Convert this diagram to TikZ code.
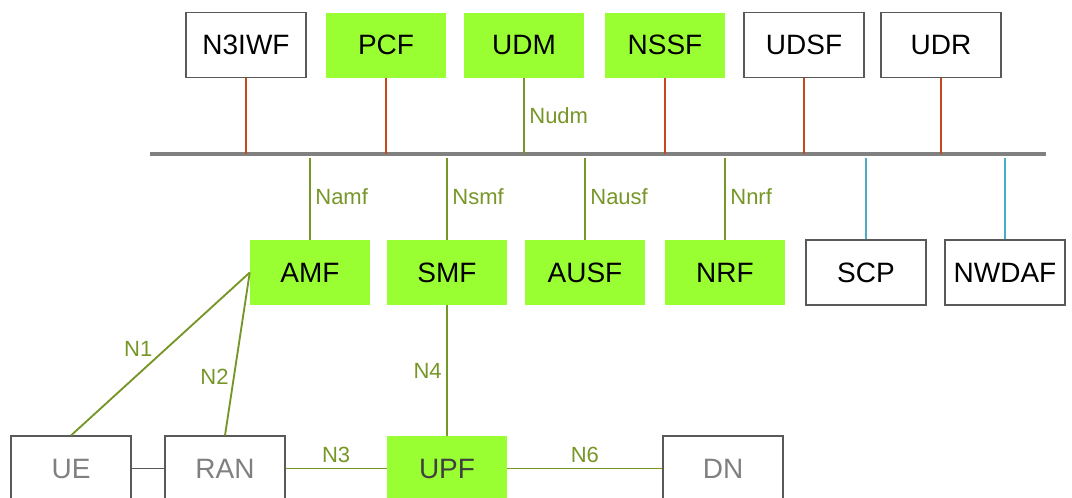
\documentclass[tikz,border=0pt]{standalone}
\usepackage{fontspec}
\setmainfont{Liberation Sans}
\usepackage{xcolor}
\usetikzlibrary{positioning}

\definecolor{nfgreen}{RGB}{153,255,51}
\definecolor{linkgreen}{RGB}{119,150,40}
\definecolor{linkred}{RGB}{197,72,28}
\definecolor{linkblue}{RGB}{75,172,198}
\definecolor{busgray}{RGB}{128,128,128}
\definecolor{boxgray}{RGB}{89,89,89}

\begin{document}
\begin{tikzpicture}[
    x=0.75pt, y=-0.75pt,
    nf/.style={rectangle, minimum width=90pt, minimum height=48.75pt, inner sep=0pt, font=\fontsize{21}{24}\selectfont},
    greennf/.style={nf, fill=nfgreen},
    plainnf/.style={nf, draw=boxgray, line width=0.8pt, fill=white},
    greylbl/.style={text=busgray},
    link/.style={draw=linkgreen, line width=1.4pt},
    redlink/.style={draw=linkred, line width=1.4pt},
    bluelink/.style={draw=linkblue, line width=1.4pt},
    lbl/.style={text=linkgreen, font=\fontsize{16.5}{18}\selectfont}
]

\useasboundingbox (0,0) rectangle (1072,497);
\clip (0,0) rectangle (1072,497);

% Service bus
\coordinate (busL) at (150,154);
\coordinate (busR) at (1046,154);
\draw[busgray, line width=3pt] (busL) -- (busR);

% Top row
\foreach \name/\x/\sty in {N3IWF/246/plainnf, PCF/386/greennf, UDM/524/greennf,
                          NSSF/665/greennf, UDSF/804/plainnf, UDR/941/plainnf} {
    \node[\sty] (\name) at (\x,45) {\name};
}

% Middle row
\foreach \name/\x/\sty in {AMF/310/greennf, SMF/447/greennf, AUSF/585/greennf,
                          NRF/725/greennf, SCP/866/plainnf, NWDAF/1005/plainnf} {
    \node[\sty] (\name) at (\x,272.5) {\name};
}

% Bottom row
\node[plainnf, greylbl] (UE) at (71,468.5) {UE};
\node[plainnf, greylbl] (RAN) at (225,468.5) {RAN};
\node[greennf, text=black!75] (UPF) at (447,468.5) {UPF};
\node[plainnf, greylbl] (DN) at (723,468.5) {DN};

% Top row to bus
\foreach \name in {N3IWF, PCF, NSSF, UDSF, UDR} {
    \draw[redlink] (\name.south) -- (\name.south |- busL);
}
\draw[link] (UDM.south) -- (UDM.south |- busL) node[lbl, midway, right] {Nudm};

% Middle row to bus
\draw[link, shorten >=3pt] (AMF.north) -- (AMF.north |- busL) node[lbl, midway, right] {Namf};
\draw[link, shorten >=3pt] (SMF.north) -- (SMF.north |- busL) node[lbl, midway, right] {Nsmf};
\draw[link, shorten >=3pt] (AUSF.north) -- (AUSF.north |- busL) node[lbl, midway, right] {Nausf};
\draw[link, shorten >=3pt] (NRF.north) -- (NRF.north |- busL) node[lbl, midway, right] {Nnrf};
\foreach \name in {SCP, NWDAF} {
    \draw[bluelink, shorten >=3pt] (\name.north) -- (\name.north |- busL);
}

% Reference points
\draw[link] (UE.north) -- (AMF.west) node[lbl, pos=.53, left=6pt] {N1};
\draw[link] (RAN.north) -- (AMF.west) node[lbl, pos=.36, left] {N2};
\draw[link] (SMF.south) -- (UPF.north) node[lbl, midway, left] {N4};
\draw[boxgray, line width=0.8pt] (UE.east) -- (RAN.west);
\draw[link] (RAN.east) -- (UPF.west) node[lbl, midway, above] {N3};
\draw[link] (UPF.east) -- (DN.west) node[lbl, midway, above] {N6};

\end{tikzpicture}
\end{document}
